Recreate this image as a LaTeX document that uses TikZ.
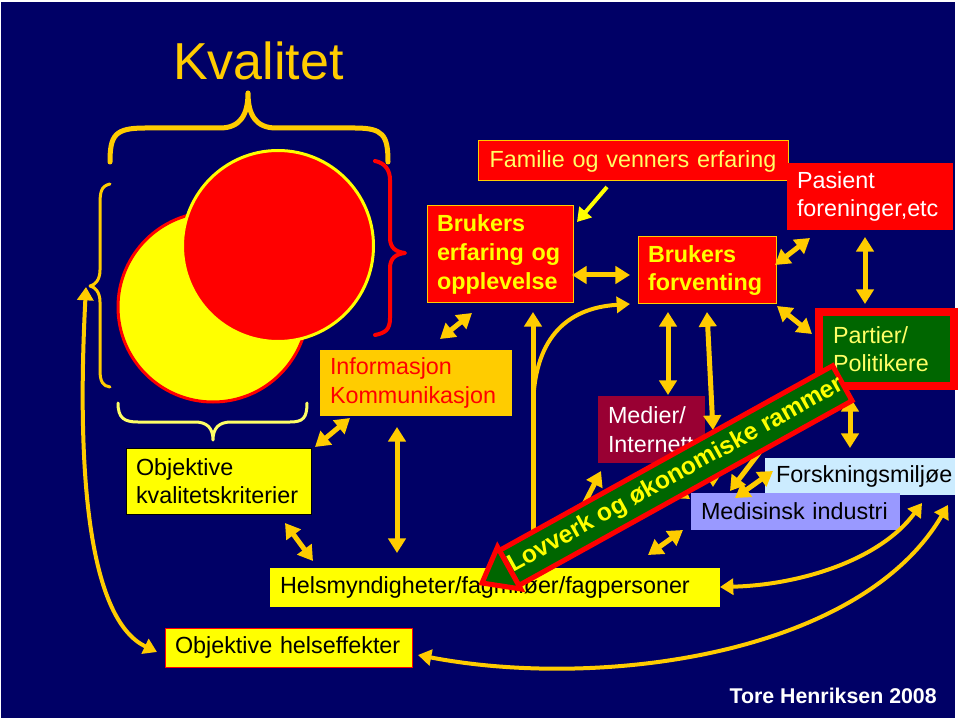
\documentclass[tikz,border=0pt]{standalone}
\usepackage{fontspec}
\setmainfont{Liberation Sans}
\usetikzlibrary{arrows.meta}
\definecolor{navybg}{RGB}{0,0,102}
\definecolor{cgold}{RGB}{255,204,0}
\definecolor{cyel}{RGB}{255,255,0}
\definecolor{cpale}{RGB}{255,255,102}
\definecolor{cgreen}{RGB}{0,102,0}
\definecolor{cmaroon}{RGB}{153,0,51}
\definecolor{clblue}{RGB}{204,236,255}
\definecolor{clav}{RGB}{153,153,255}
\definecolor{cred}{RGB}{255,0,0}
\tikzset{
  Tg/.tip={Triangle[length=11pt,width=13pt]},
  Tc/.tip={Triangle[length=10pt,width=12pt]},
  bx/.style={rectangle, anchor=north west, outer sep=0pt, inner xsep=7.5pt, inner ysep=0pt, align=left, font=\fontsize{17.5}{21.5}\selectfont},
  bxb/.style={bx, font=\bfseries\fontsize{17.5}{21.5}\selectfont},
  dbl/.style={draw=cgold, line width=3.75pt, Tg-Tg},
  sgl/.style={draw=cgold, line width=3.75pt, -Tg},
  cdbl/.style={draw=cgold, line width=3pt, Tc-Tc},
  csgl/.style={draw=cgold, line width=3pt, -Tc},
  brace/.style={line cap=round, line join=round},
}
\begin{document}
\begin{tikzpicture}[x=0.75pt, y=-0.75pt]
\useasboundingbox (0,0) rectangle (960,720);
\fill[white] (0,0) rectangle (960,720);
\fill[navybg] (1,2) rectangle (955,718);

% braces
\draw[brace, cgold, line width=3.75pt] (110,162) .. controls (110,135) and (115,128) .. (145,128) -- (220,128) .. controls (240,128) and (248,115) .. (248,93) .. controls (248,115) and (256,128) .. (276,128) -- (355,128) .. controls (383,128) and (388,135) .. (388,162);
\draw[brace, cgold, line width=2.25pt] (110,184) .. controls (101,186) and (100,192) .. (100,205) -- (100,270) .. controls (100,280) and (95,285) .. (90,286) .. controls (95,287) and (100,292) .. (100,302) -- (100,370) .. controls (100,382) and (103,386) .. (110,387);
\draw[brace, cred, line width=3pt] (375,161) .. controls (385,163) and (390,170) .. (390,180) -- (390,238) .. controls (390,248) and (396,252) .. (405,253) .. controls (396,254) and (390,258) .. (390,268) -- (390,318) .. controls (390,330) and (385,333) .. (375,335);
\draw[brace, cpale, line width=2.25pt] (118,403) .. controls (118,418) and (124,422) .. (138,422) -- (195,422) .. controls (207,422) and (213,428) .. (213,440) .. controls (213,428) and (219,422) .. (231,422) -- (290,422) .. controls (303,422) and (307,418) .. (307,403);

% circles
\node[circle, fill=cyel, draw=cred, line width=2.25pt, minimum size=142.5pt, inner sep=0pt] (ycirc) at (213,307) {};
\node[circle, fill=cred, draw=cyel, line width=2.25pt, minimum size=143.25pt, inner sep=0pt] (rcirc) at (278,246) {};

% boxes
\node[bx, fill=cred, draw=cgold, line width=0.75pt, minimum width=232.5pt, minimum height=30pt, text width=217.5pt, align=center, text=cpale] (famil) at (478,141) {Familie og venners erfaring};
\node[bxb, fill=cred, draw=cgold, line width=0.75pt, minimum width=109.5pt, minimum height=72.75pt, text width=94.5pt, text=cyel] (brE) at (427,206) {Brukers\\\mbox{erfaring og}\\opplevelse};
\node[bxb, fill=cred, draw=cgold, line width=0.75pt, minimum width=103.5pt, minimum height=50.25pt, text width=88.5pt, text=cyel] (brF) at (638,237) {Brukers\\forventing};
\node[bx, fill=cred, minimum width=124.5pt, minimum height=50.25pt, text width=109.5pt, text=white] (pas) at (787,163) {Pasient\\\mbox{foreninger,etc}};
\node[bx, fill=cgreen, draw=cred, line width=6pt, minimum width=101.25pt, minimum height=55.5pt, inner xsep=10.5pt, text width=80.25pt, text=cpale] (part) at (819,312) {Partier/\\Politikere};
\node[bx, fill=cgold, minimum width=144pt, minimum height=49.5pt, text width=129pt, text=cred] (info) at (320,350) {Informasjon\\Kommunikasjon};
\node[bx, fill=cyel, draw=black, line width=0.6pt, minimum width=138.75pt, minimum height=49.5pt, text width=123.75pt] (objK) at (126,448) {Objektive\\\mbox{kvalitetskriterier}};
\node[bx, fill=cmaroon, minimum width=80.25pt, minimum height=50.25pt, text width=65.25pt, text=white] (medier) at (598,396) {Medier/\\\mbox{Internett}};
\node[bx, fill=clblue, minimum width=142.5pt, minimum height=27.75pt, inner xsep=8.25pt, text width=126pt] (forsk) at (765,458) {\mbox{Forskningsmiljøe}};
\node[bx, fill=clav, minimum width=156.75pt, minimum height=27.75pt, text width=141.75pt] (medind) at (691,493) {\mbox{Medisinsk industri}};
\node[bx, fill=cyel, minimum width=337.5pt, minimum height=29.25pt, text width=322.5pt] (helse) at (270,568) {Helsmyndigheter/fagmiløer/fagpersoner};
\node[bx, fill=cyel, draw=cred, line width=0.75pt, minimum width=185.25pt, minimum height=29.25pt, text width=170.25pt] (objH) at (165,628) {\mbox{Objektive helseffekter}};

% arrow end points
\coordinate (a1s) at (607,187); \coordinate (a1e) at (577,222);
\coordinate (a2s) at (572,275); \coordinate (a2e) at (630,275);
\coordinate (a3s) at (775,265); \coordinate (a3e) at (810,238);
\coordinate (a4s) at (865,237); \coordinate (a4e) at (865,304);
\coordinate (a5s) at (777,306); \coordinate (a5e) at (812,334);
\coordinate (a6s) at (850,397); \coordinate (a6e) at (850,448);
\coordinate (a7s) at (668,312); \coordinate (a7e) at (668,395);
\coordinate (a8s) at (707,312); \coordinate (a8e) at (713,430);
\coordinate (a8bs) at (713,450); \coordinate (a8be) at (713,487);
\coordinate (a9s) at (533,568); \coordinate (a9e) at (533,312);
\coordinate (a10s) at (533,410); \coordinate (a10e) at (630,304);
\coordinate (a11s) at (440,339); \coordinate (a11e) at (472,313);
\coordinate (a12s) at (397,427); \coordinate (a12e) at (397,553);
\coordinate (a13s) at (315,447); \coordinate (a13e) at (350,418);
\coordinate (a14s) at (285,523); \coordinate (a14e) at (313,561);
\coordinate (a15s) at (86,287); \coordinate (a15e) at (157,652);
\coordinate (a16s) at (720,587); \coordinate (a16e) at (922,503);
\coordinate (a17s) at (418,655); \coordinate (a17e) at (948,505);
\coordinate (a18s) at (575,522); \coordinate (a18e) at (601,471);
\coordinate (a19s) at (648,555); \coordinate (a19e) at (683,530);
\coordinate (a20s) at (735,498); \coordinate (a20e) at (773,471);
\coordinate (a21s) at (775,432); \coordinate (a21e) at (730,491);
\coordinate (a22s) at (660,478); \coordinate (a22e) at (690,499);

% arrows
\draw[draw=cyel, line width=3pt, -{Triangle[length=10pt,width=12pt]}] (a1s) -- (a1e);
\draw[dbl] (a2s) -- (a2e);
\draw[dbl] (a3s) -- (a3e);
\draw[dbl] (a4s) -- (a4e);
\draw[dbl] (a5s) -- (a5e);
\draw[dbl] (a6s) -- (a6e);
\draw[dbl] (a7s) -- (a7e);
\draw[dbl] (a8s) -- (a8e);
\draw[sgl] (a8bs) -- (a8be);
\draw[sgl] (a9s) -- (a9e);
\draw[csgl] (a10s) .. controls (533,340) and (565,308) .. (a10e);
\draw[dbl] (a11s) -- (a11e);
\draw[dbl] (a12s) -- (a12e);
\draw[dbl] (a13s) -- (a13e);
\draw[dbl] (a14s) -- (a14e);
\draw[cdbl] (a15s) .. controls (76,480) and (90,620) .. (a15e);
\draw[cdbl] (a16s) .. controls (800,585) and (880,560) .. (a16e);
\draw[cdbl] (a17s) .. controls (600,690) and (860,655) .. (a17e);
\draw[sgl] (a18s) -- (a18e);
\draw[dbl] (a19s) -- (a19e);
\draw[dbl] (a20s) -- (a20e);
\draw[sgl] (a21s) -- (a21e);
\draw[sgl] (a22s) -- (a22e);

% banner
\begin{scope}[shift={(482,583)}, rotate=29]
  \filldraw[fill=cgreen, draw=cred, line width=3.75pt, line join=miter] (31,-20) rectangle (412,20);
  \filldraw[fill=cgreen, draw=cred, line width=3.75pt, line join=miter] (0,0) -- (31,-24) -- (31,24) -- cycle;
  \node[rotate=29, text=cyel, font=\bfseries\fontsize{18.5}{20}\selectfont] (banner) at (222,0) {Lovverk og økonomiske rammer};
\end{scope}

% titles
\node[anchor=base west, inner sep=0pt, text=cgold, font=\fontsize{39}{45}\selectfont] (title) at (173,80) {Kvalitet};
\node[anchor=base east, inner sep=0pt, text=white, font=\bfseries\fontsize{16}{19}\selectfont] (author) at (937,703) {Tore Henriksen 2008};
\end{tikzpicture}
\end{document}
